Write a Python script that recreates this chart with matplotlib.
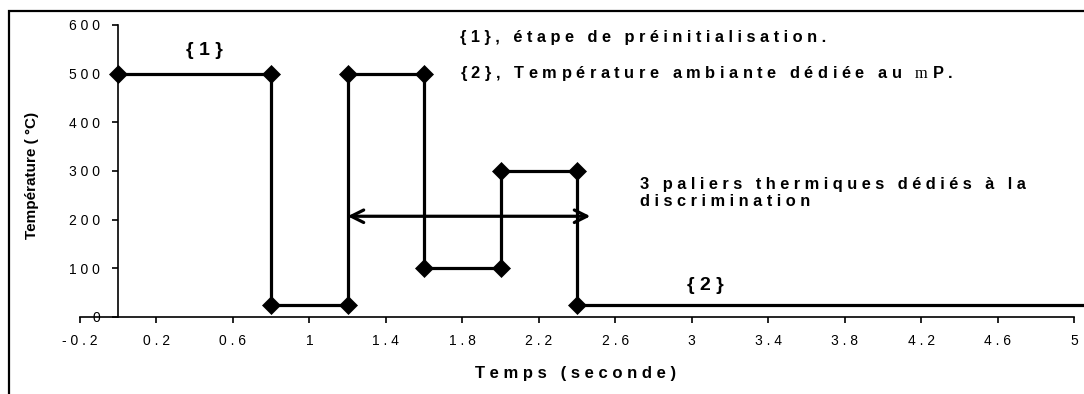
import matplotlib
matplotlib.use('Agg')
import matplotlib.pyplot as plt
from matplotlib.patches import Rectangle

plt.rcParams['font.family'] = ['Liberation Sans', 'DejaVu Sans']
# serif "m" (micro) inside the legend note
plt.rcParams['mathtext.fontset'] = 'custom'
plt.rcParams['mathtext.rm'] = 'Liberation Serif'

# === Data: temperature profile (seconds, degC) ===
t_points = [0, 0.8, 0.8, 1.2, 1.2, 1.6, 1.6, 2.0, 2.0, 2.4, 2.4]
temp_points = [500, 500, 25, 25, 500, 500, 100, 100, 300, 300, 25]
t_end = 5.2          # ambient plateau runs off the right edge
temp_end = 25

x_ticks = [-0.2, 0.2, 0.6, 1, 1.4, 1.8, 2.2, 2.6, 3, 3.4, 3.8, 4.2, 4.6, 5]
y_ticks = [0, 100, 200, 300, 400, 500, 600]

# discrimination plateaus span
arrow_start = 1.2
arrow_end = 2.47
arrow_temp = 207


def track(s, sep=' '):
    """Wide letter spacing, like the Word chart styling."""
    return sep.join(s)


fig = plt.figure(figsize=(10.84, 3.94), dpi=100)
ax = fig.add_axes([80 / 1084, 77 / 394, 994 / 1084, 292 / 394])

# outer chart frame (cut by right and bottom edges)
fig.patches.append(Rectangle((9 / 1084, -0.1), 1.2, (383 / 394) + 0.1,
                             transform=fig.transFigure, fill=False,
                             edgecolor='black', linewidth=1.6))

ax.plot(t_points + [t_end], temp_points + [temp_end], color='black', lw=2.3,
        marker='D', ms=9.5, mew=0.5, markevery=list(range(len(t_points))),
        clip_on=False, zorder=3)

ax.annotate('', xy=(arrow_end, arrow_temp), xytext=(arrow_start, arrow_temp),
            arrowprops=dict(arrowstyle='<->,head_length=0.9,head_width=0.45',
                            color='black', lw=2.3, shrinkA=0, shrinkB=0))

ax.set_xlim(-0.2, 5)
ax.set_ylim(0, 600)
ax.set_xticks(x_ticks, [track('%g' % v) for v in x_ticks], fontsize=10)
ax.set_yticks(y_ticks, [track('%g' % v) for v in y_ticks], fontsize=11)

for side in ['top', 'right']:
    ax.spines[side].set_visible(False)
ax.spines['left'].set_position(('data', 0))
ax.spines['left'].set_linewidth(1.2)
ax.spines['bottom'].set_linewidth(1.2)
ax.tick_params(axis='both', direction='out', length=4, width=1.2)
ax.tick_params(axis='x', pad=8)
ax.tick_params(axis='y', pad=9)

ax.set_xlabel(track('Temps (seconde)'), fontsize=12, fontweight='bold')
ax.xaxis.set_label_coords(0.499, -0.168)
ax.set_ylabel('Température ( °C)', fontsize=11, fontweight='bold')
ax.yaxis.set_label_coords(-0.041, 0.486)

bold = dict(fontweight='bold', color='black')
ax.text(0.449, 548, track('{1}'), fontsize=14, ha='center', va='center', **bold)
ax.text(3.07, 64, track('{2}'), fontsize=14, ha='center', va='center', **bold)
ax.text(1.787, 575, track('{1}, étape de préinitialisation.'),
        fontsize=11.8, ha='left', va='center', **bold)
ax.text(1.787, 501, track('{2}, Température ambiante dédiée au') + '   '
        + r'$\mathrm{m}$' + ' P .',
        fontsize=11.8, ha='left', va='center', **bold)
ax.text(2.73, 255, track('3 paliers thermiques dédiés à la') + '\n'
        + track('discrimination'),
        fontsize=11.8, ha='left', va='center', linespacing=1.15, **bold)

fig.savefig('out.png', dpi=100)
